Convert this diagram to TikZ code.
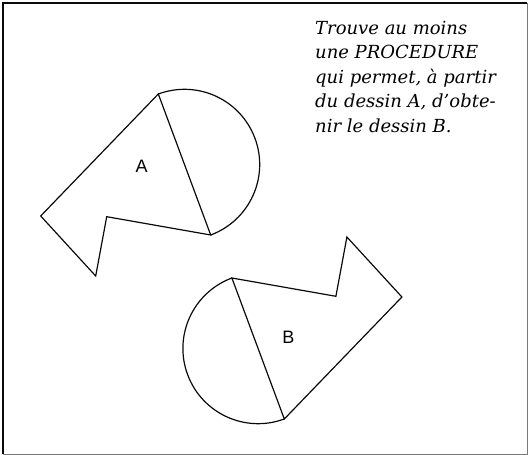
\documentclass[tikz,border=0pt]{standalone}
\usepackage{fontspec}
\setmainfont{DejaVu Serif}
\newfontfamily\labelfont{Liberation Sans}
\usepackage{tikz}
\usetikzlibrary{calc}
\definecolor{ink}{RGB}{10,10,10}
\definecolor{edge}{RGB}{120,120,120}

\begin{document}
\begin{tikzpicture}[x=1pt, y=1pt, line join=miter,
    outline/.style={ink, line width=1.2pt},
    letter/.style={font=\labelfont\fontsize{18}{18}\selectfont, inner sep=0pt}]
  \useasboundingbox (0,0) rectangle (528,455);
  % frame
  \draw[ink, line width=1.8pt] (3,1) -- (3,452) -- (527,452);
  \draw[edge, line width=0.8pt] (3,1) -- (527,1) -- (527,452);
  % question
  \node[anchor=north west, inner sep=0pt, align=left,
        font=\itshape\fontsize{18}{24.5}\selectfont] (question) at (315,434)
    {Trouve au moins\\une PROCEDURE\\qui permet, à partir\\du dessin A, d'obte-\\nir le dessin B.};
  % drawing A
  \coordinate (top) at (158.3,361);
  \coordinate (bottom) at (210.7,220);
  \coordinate (tip) at (40.7,239);
  \coordinate (notch) at (95.7,179);
  \coordinate (inner) at (106.7,238.3);
  \draw[outline] (top) -- (tip) -- (notch) -- (inner) -- (bottom) -- cycle;
  \draw[outline] (bottom) arc[start angle=-69.6, end angle=110.4, radius=75.2pt];
  \node[letter] (labelA) at (141.7,288.3) {A};
  % drawing B: A turned half a turn
  \begin{scope}[rotate around={180:(221.3,198.5)}]
    \coordinate (topB) at (158.3,361);
    \coordinate (bottomB) at (210.7,220);
    \coordinate (tipB) at (40.7,239);
    \coordinate (notchB) at (95.7,179);
    \coordinate (innerB) at (106.7,238.3);
    \draw[outline] (topB) -- (tipB) -- (notchB) -- (innerB) -- (bottomB) -- cycle;
    \draw[outline] (bottomB) arc[start angle=-69.6, end angle=110.4, radius=75.2pt];
  \end{scope}
  \node[letter] (labelB) at (288.3,117.7) {B};
\end{tikzpicture}
\end{document}
